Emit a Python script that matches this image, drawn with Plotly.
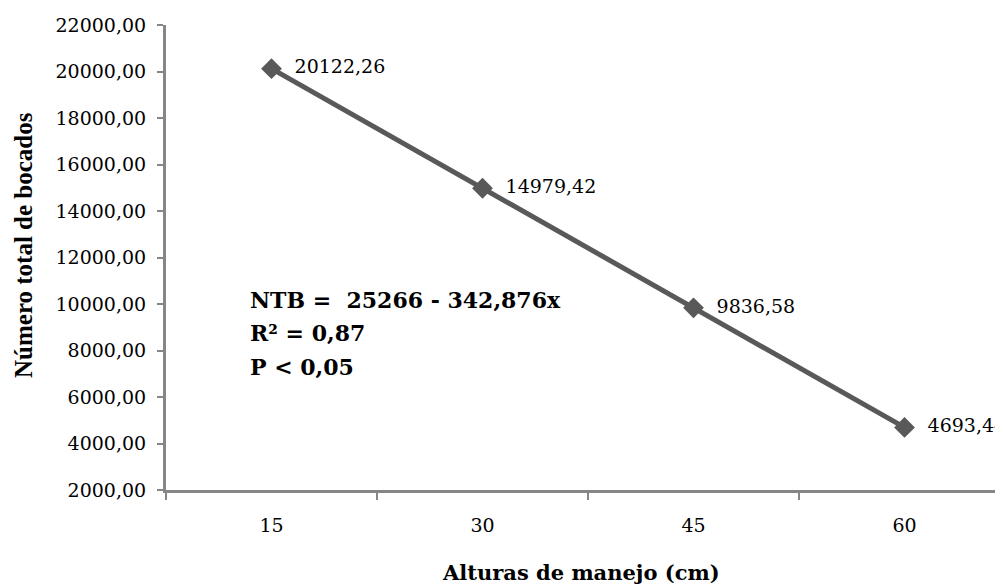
import plotly.graph_objects as go

categories = ["15", "30", "45", "60"]
ntb_values = [20122.26, 14979.42, 9836.58, 4693.44]
y_ticks = [2000, 4000, 6000, 8000, 10000, 12000, 14000, 16000, 18000, 20000, 22000]
eq_lines = ["NTB =  25266 - 342,876x", "R² = 0,87", "P < 0,05"]
x_title = "Alturas de manejo (cm)"
y_title = "Número total de bocados"

xpos = list(range(len(categories)))
SERIF_WIDE = "DejaVu Serif, Liberation Serif, serif"
SERIF = "Liberation Serif, Times New Roman, serif"

fig = go.Figure()
fig.add_trace(go.Scatter(
    x=xpos, y=ntb_values, mode="lines+markers+text",
    line=dict(color="#595959", width=5),
    marker=dict(symbol="diamond", size=16, color="#595959"),
    text=["  " + f"{v:.2f}".replace(".", ",") for v in ntb_values],
    textposition="middle right",
    textfont=dict(family=SERIF_WIDE, size=19, color="#000000"),
    cliponaxis=False,
    showlegend=False,
))

W, H = 995, 578
L, T, B = 158, 17, 96
fig.update_layout(
    width=W, height=H,
    margin=dict(l=L, r=0, t=T, b=B),
    plot_bgcolor="white", paper_bgcolor="white",
    separators=",.",
    font=dict(family=SERIF_WIDE, color="#000000"),
)
fig.update_xaxes(
    range=[-0.5, -0.5 + (W - L) / 211],
    tickvals=xpos, ticktext=categories,
    ticks="", showgrid=False, zeroline=False,
    showline=True, linecolor="#868686", linewidth=3,
    tickfont=dict(size=19), ticklabelstandoff=16,
    minor=dict(tickvals=[-0.5, 0.5, 1.5, 2.5, 3.5], ticks="outside", ticklen=7,
               tickcolor="#868686", tickwidth=2, showgrid=False),
)
fig.update_yaxes(
    range=[2000, 22000], tickvals=y_ticks, tickformat=".2f",
    ticks="outside", ticklen=6, tickcolor="#868686", tickwidth=2,
    showgrid=False, zeroline=False,
    showline=True, linecolor="#868686", linewidth=3,
    tickfont=dict(size=19), ticklabelstandoff=7,
)

pw = W - L
ph = H - T - B
fig.add_annotation(text="<b>" + x_title + "</b>", xref="paper", yref="paper",
                   x=(581 - 166) / pw, y=(490 - 572) / ph, xanchor="center", yanchor="middle",
                   showarrow=False, font=dict(family=SERIF_WIDE, size=21, color="#000000"))
fig.add_annotation(text="<b>" + y_title + "</b>", xref="paper", yref="paper",
                   x=(23 - 166) / pw, y=(490 - 245) / ph, xanchor="center", yanchor="middle",
                   textangle=-90, showarrow=False,
                   font=dict(family=SERIF, size=25, color="#000000"))

ys = [300, 333, 367]
for t, yy in zip(eq_lines, ys):
    fig.add_annotation(text="<b>" + t + "</b>", xref="paper", yref="paper",
                       x=(248 - 166) / pw, y=(490 - yy) / ph, xanchor="left", yanchor="middle",
                       showarrow=False, font=dict(family=SERIF_WIDE, size=22, color="#000000"))

fig.write_html("out.html")
